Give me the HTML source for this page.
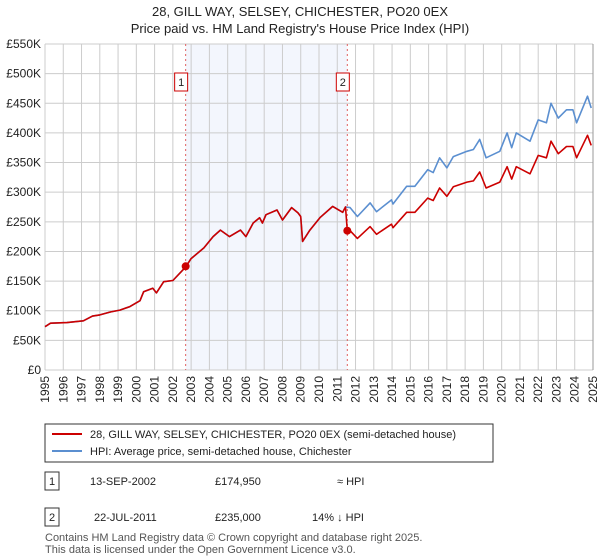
<!DOCTYPE html>
<html><head><meta charset="utf-8"><style>
body{margin:0;background:#fff;font-family:"Liberation Sans",sans-serif;}
#wrap{position:relative;width:600px;height:560px;overflow:hidden;}
text{font-family:"Liberation Sans",sans-serif;}
</style></head><body>
<div id="wrap">
<svg id="svg" width="600" height="560">
<text x="300" y="16" text-anchor="middle" font-size="13" fill="#222">28, GILL WAY, SELSEY, CHICHESTER, PO20 0EX</text>
<text x="300" y="33" text-anchor="middle" font-size="13" fill="#222">Price paid vs. HM Land Registry's House Price Index (HPI)</text>
<g id="plot"></g>
<rect x="45" y="424" width="448" height="38" fill="#fff" stroke="#333" stroke-width="1"/>
<line x1="52" y1="434" x2="82" y2="434" stroke="#cc0000" stroke-width="2"/>
<text x="90" y="438" font-size="11" fill="#222">28, GILL WAY, SELSEY, CHICHESTER, PO20 0EX (semi-detached house)</text>
<line x1="52" y1="451" x2="82" y2="451" stroke="#5b8fd0" stroke-width="2"/>
<text x="90" y="455" font-size="11" fill="#222">HPI: Average price, semi-detached house, Chichester</text>
<rect x="45" y="472" width="14" height="18" fill="#fff" stroke="#333"/>
<text x="52" y="485" text-anchor="middle" font-size="11" fill="#222">1</text>
<text x="90" y="485" font-size="11" fill="#222">13-SEP-2002</text>
<text x="215" y="485" font-size="11" fill="#222">£174,950</text>
<text x="337" y="485" font-size="11" fill="#222">≈ HPI</text>
<rect x="45" y="508" width="14" height="18" fill="#fff" stroke="#333"/>
<text x="52" y="521" text-anchor="middle" font-size="11" fill="#222">2</text>
<text x="94" y="521" font-size="11" fill="#222">22-JUL-2011</text>
<text x="215" y="521" font-size="11" fill="#222">£235,000</text>
<text x="312" y="521" font-size="11" fill="#222">14% ↓ HPI</text>
<text x="45" y="541" font-size="11" fill="#555">Contains HM Land Registry data © Crown copyright and database right 2025.</text>
<text x="45" y="553" font-size="11" fill="#555">This data is licensed under the Open Government Licence v3.0.</text>
</svg></div>
<script>
const yTicks=[0,50,100,150,200,250,300,350,400,450,500,550];
const yTickLabels=["£0","£50K","£100K","£150K","£200K","£250K","£300K","£350K","£400K","£450K","£500K","£550K"];
const xYears=[1995,1996,1997,1998,1999,2000,2001,2002,2003,2004,2005,2006,2007,2008,2009,2010,2011,2012,2013,2014,2015,2016,2017,2018,2019,2020,2021,2022,2023,2024,2025];
const hpiT=[1995.0,1995.3,1996.2,1997.1,1997.6,1998,1998.6,1999.1,1999.65,2000.2,2000.4,2000.9,2001.1,2001.5,2002.0,2002.7,2003.0,2003.7,2004.2,2004.6,2005.1,2005.7,2006.0,2006.4,2006.75,2006.9,2007.1,2007.7,2008.0,2008.5,2008.85,2009.0,2009.1,2009.5,2010.05,2010.75,2011.3,2011.45,2011.7,2012.1,2012.8,2013.15,2013.97,2014.05,2014.8,2015.25,2015.95,2016.25,2016.6,2017.0,2017.35,2018.1,2018.45,2018.8,2019.15,2019.9,2020.3,2020.55,2020.8,2021.55,2022.0,2022.45,2022.7,2023.1,2023.55,2023.9,2024.1,2024.7,2024.9];
const hpiV=[73,79,80,83,91,93,98,101,107,117,132,138,130,149,151,174,188,206,225,236,225,236,225,248,257,248,262,270,253,274,265,259,217,236,257,276,266,275,274,259,282,267,287,280,310,310,338,333,358,341,360,369,372,389,358,369,400,375,400,386,422,417,450,425,439,439,417,462,442];
const priceT=[1995.0,1995.3,1996.2,1997.1,1997.6,1998,1998.6,1999.1,1999.65,2000.2,2000.4,2000.9,2001.1,2001.5,2002.0,2002.7,2003.0,2003.7,2004.2,2004.6,2005.1,2005.7,2006.0,2006.4,2006.75,2006.9,2007.1,2007.7,2008.0,2008.5,2008.85,2009.0,2009.1,2009.5,2010.05,2010.75,2011.3,2011.45,2011.55,2011.7,2012.1,2012.8,2013.15,2013.97,2014.05,2014.8,2015.25,2015.95,2016.25,2016.6,2017.0,2017.35,2018.1,2018.45,2018.8,2019.15,2019.9,2020.3,2020.55,2020.8,2021.55,2022.0,2022.45,2022.7,2023.1,2023.55,2023.9,2024.1,2024.7,2024.9];
const priceV=[73,79,80,83,91,93,98,101,107,117,132,138,130,149,151,174,188,206,225,236,225,236,225,248,257,248,262,270,253,274,265,259,217,236,257,276,266,275,235,235,222,242,229,246,240,266,266,290,286,307,293,309,317,319,334,307,317,343,322,343,331,362,358,386,365,377,377,358,396,379];
const saleT=[2002.7,2011.55];
const saleV=[174.95,235];
const saleLabels=["1","2"];
const X0=45,X1=593,Y0=370,Y1=44;
const x=t=>X0+(t-1995)/30*(X1-X0);
const y=v=>Y0-v/550*(Y0-Y1);
const NS="http://www.w3.org/2000/svg";
const g=document.getElementById('plot');
function mk(tag,attrs){const e=document.createElementNS(NS,tag);for(const k in attrs)e.setAttribute(k,attrs[k]);g.appendChild(e);return e;}
let e=mk('rect',{x:x(saleT[0]),y:Y1,width:x(saleT[1])-x(saleT[0]),height:Y0-Y1,fill:'#f3f6fd'});


yTicks.forEach((v,i)=>{
 let l=mk('line',{x1:X0,x2:X1,y1:y(v),y2:y(v),stroke:'#cccccc','stroke-width':1});
 
 
 let t=mk('text',{x:41,y:y(v)+4,'text-anchor':'end','font-size':12,fill:'#222'});
 t.textContent=yTickLabels[i];
 
 
});
xYears.forEach(yr=>{
 let l=mk('line',{x1:x(yr),x2:x(yr),y1:Y1,y2:Y0,stroke:yr===2025?'#999':'#cccccc','stroke-width':1});
 
 
 let t=mk('text',{x:0,y:0,'text-anchor':'end','font-size':12,fill:'#222',transform:`translate(${x(yr)+4},376) rotate(-90)`});
 t.textContent=yr;
 
 
});
saleT.forEach((t,i)=>{
 let l=mk('line',{x1:x(t),x2:x(t),y1:Y1,y2:Y0,stroke:'#e06060','stroke-width':1,'stroke-dasharray':'2,3'});
 
 
 let r=mk('rect',{x:x(t)-11,y:73,width:13,height:18,fill:'#fff',stroke:'#cc0000'});
 
 
 let tx=mk('text',{x:x(t)-4.5,y:86,'text-anchor':'middle','font-size':11,fill:'#222'});
 tx.textContent=saleLabels[i];
 
 
});
function path(T,V,c,name){
 let d=T.map((t,i)=>(i?'L':'M')+x(t).toFixed(1)+','+y(V[i]).toFixed(1)).join('');
 let p=mk('path',{d:d,fill:'none',stroke:c,'stroke-width':1.6,'stroke-linejoin':'round'});
 
 
}
path(hpiT,hpiV,'#5b8fd0','hpi-line');
path(priceT,priceV,'#cc0000','price-paid-line');
saleT.forEach((t,i)=>{
 let c=mk('circle',{cx:x(t),cy:y(saleV[i]),r:4,fill:'#cc0000'});
 
 
});
</script>
</body></html>
